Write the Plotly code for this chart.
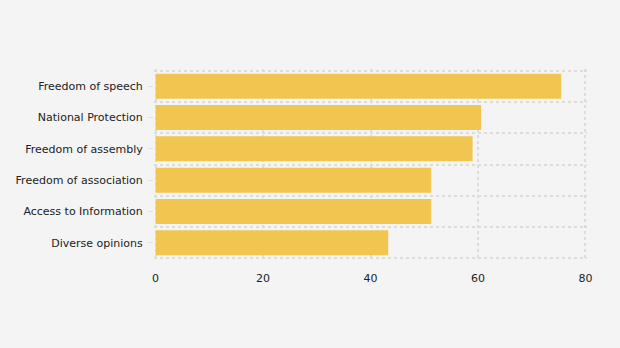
import plotly.graph_objects as go

categories = ["Freedom of speech", "National Protection", "Freedom of assembly",
              "Freedom of association", "Access to Information", "Diverse opinions"]
values = [75.5, 60.6, 59.0, 51.3, 51.3, 43.3]
x_ticks = [0, 20, 40, 60, 80]

positions = list(range(len(categories)))
boundaries = [p - 0.5 for p in positions] + [positions[-1] + 0.5]

fig = go.Figure(go.Bar(
    x=values, y=positions, orientation="h",
    marker=dict(color="#f0c651", line=dict(width=0)),
    hoverinfo="x+text", text=categories, textposition="none",
))

font = dict(family="Verdana, DejaVu Sans, sans-serif", size=11, color="#222")
grid = "#dcdcdc"
dash = "3px,3px"

fig.update_layout(
    width=620, height=348,
    margin=dict(l=154, r=33, t=69, b=88),
    paper_bgcolor="#f4f4f4", plot_bgcolor="#f4f4f4",
    bargap=0.2, showlegend=False, font=font,
    xaxis=dict(range=[-0.3, 80.3], tickvals=x_ticks, showgrid=True, gridcolor=grid,
               griddash=dash, gridwidth=2, zeroline=False, showline=False,
               ticks="", tickfont=font, ticklabelstandoff=10),
    yaxis=dict(range=[boundaries[-1] + 0.05, boundaries[0] - 0.05], tickvals=positions,
               ticktext=categories, showgrid=False, zeroline=False, showline=False,
               ticks="outside", ticklen=5, tickcolor="#e0e0e0", tickfont=font,
               ticklabelstandoff=3,
               minor=dict(tickvals=boundaries, showgrid=True, gridcolor=grid,
                          griddash=dash, gridwidth=2, ticks="")),
)

fig.write_html("out.html")
